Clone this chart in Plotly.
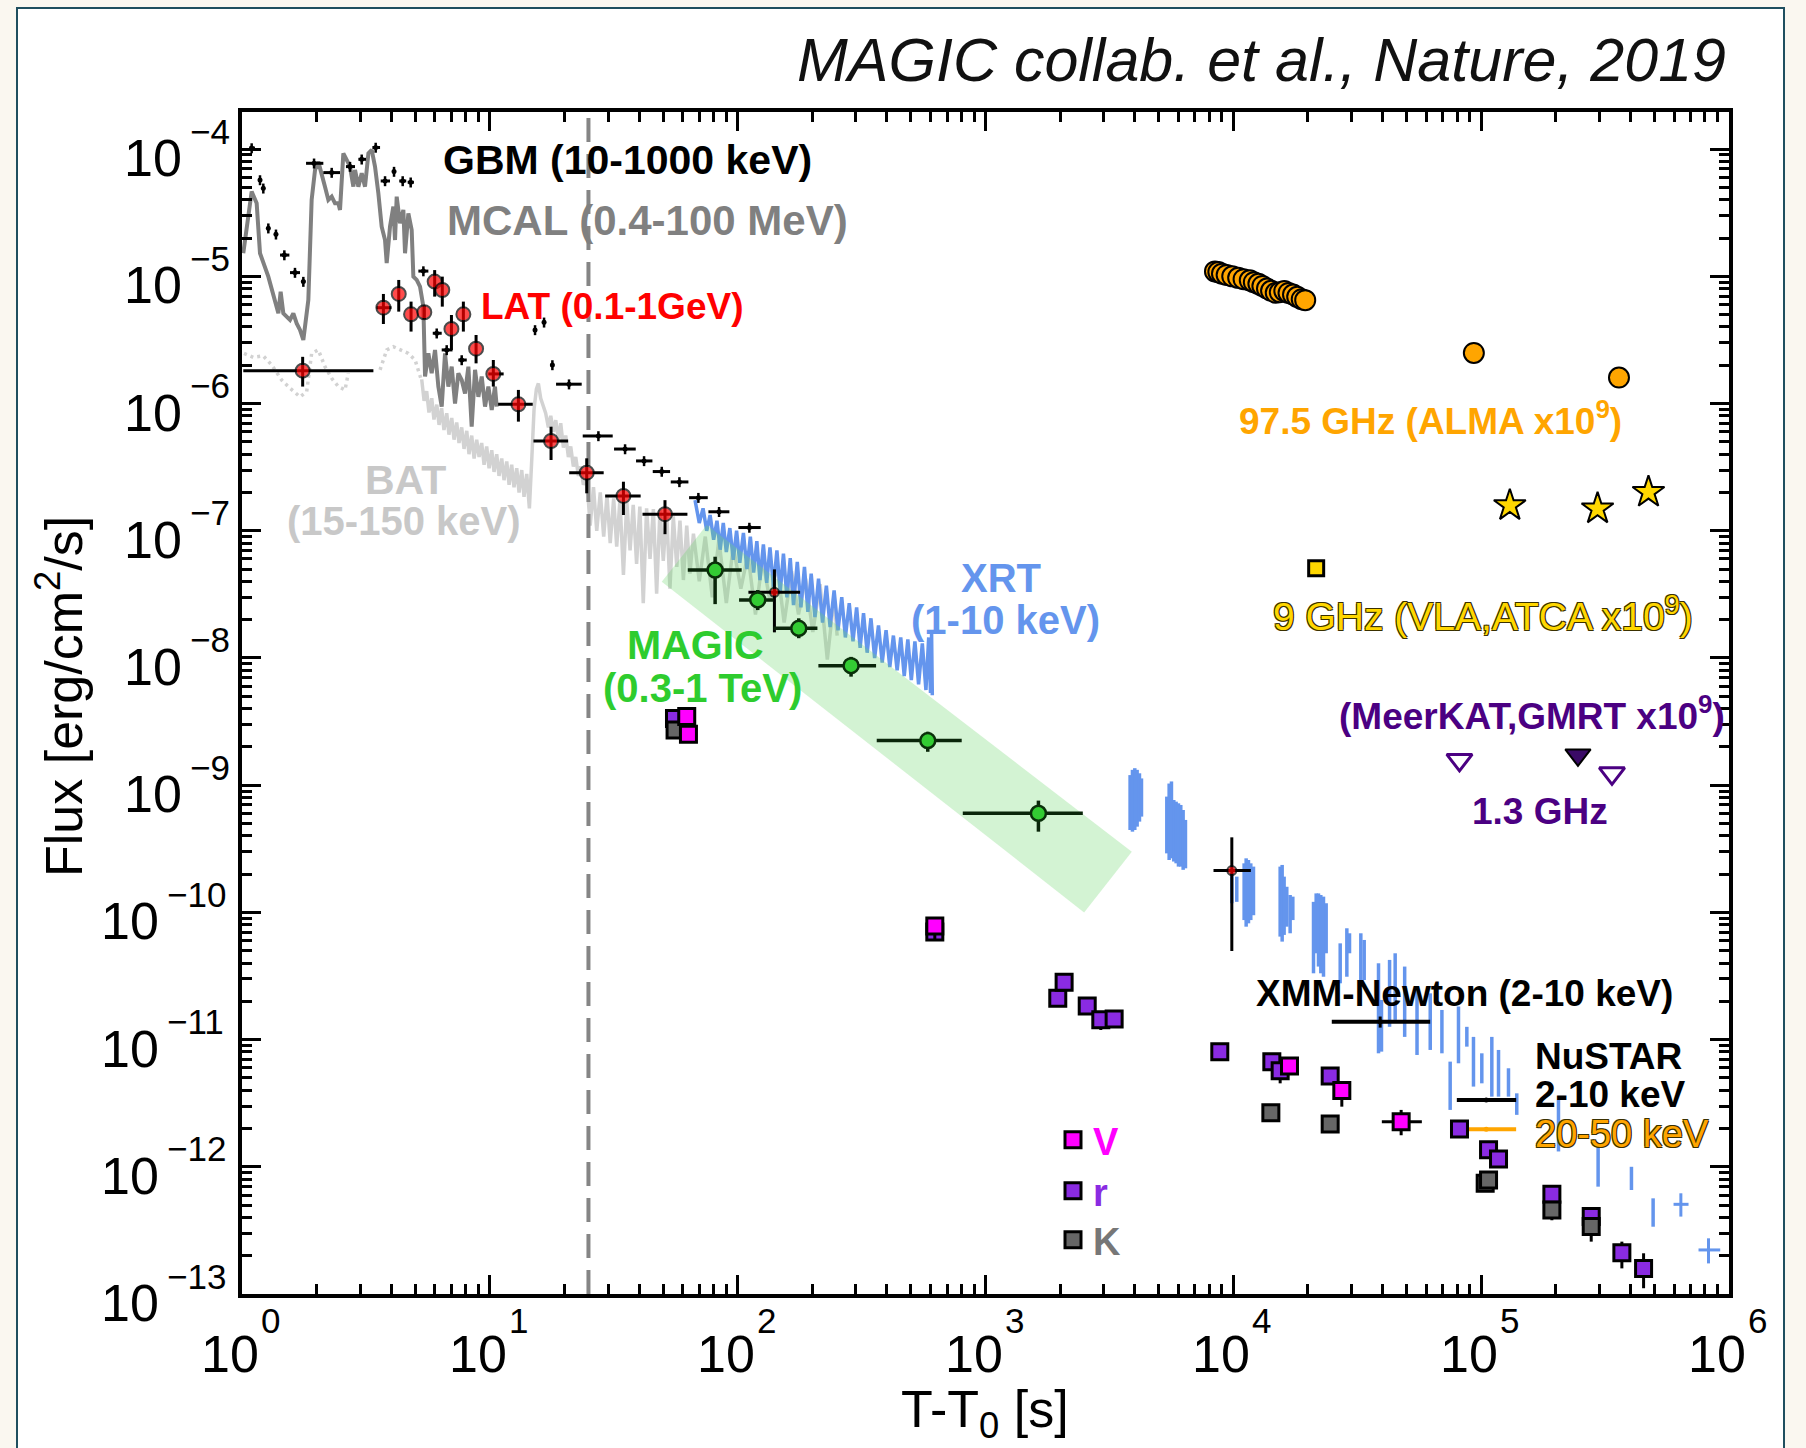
import math
import plotly.graph_objects as go

FONT = "Liberation Sans, Arial, Helvetica, sans-serif"

# ---------------- GBM 10-1000 keV (black points) ----------------
gbm_t = [1.094, 1.182, 1.219, 1.277, 1.371, 1.482, 1.636, 1.768, 1.953, 2.301,
         2.728, 3.041, 3.463, 3.777, 4.106, 4.450, 4.794, 5.393, 6.105, 6.698,
         7.70, 15.22, 16.55, 17.88, 20.87, 27.42, 35.13, 41.91, 49.40, 58.20,
         69.42, 84.13, 111.5]
gbm_f = [1.02e-4, 5.72e-5, 4.92e-5, 2.39e-5, 2.14e-5, 1.47e-5, 1.07e-5, 9.09e-6, 7.74e-5, 6.54e-5,
         7.29e-5, 8.32e-5, 1.03e-4, 5.62e-5, 6.66e-5, 5.62e-5, 5.49e-5, 1.10e-5, 3.57e-6, 2.64e-6,
         2.20e-6, 3.79e-6, 4.35e-6, 2.01e-6, 1.42e-6, 5.56e-7, 4.39e-7, 3.54e-7, 2.92e-7, 2.42e-7,
         1.82e-7, 1.41e-7, 1.06e-7]
gbm_tlo = [1.070, 1.182, 1.219, 1.277, 1.371, 1.424, 1.562, 1.740, 1.813, 2.129,
           2.627, 2.948, 3.358, 3.628, 4.106, 4.31, 4.66, 5.148, 5.884, 6.394,
           7.46, 15.0, 16.3, 17.6, 18.50, 23.70, 31.71, 38.90, 45.43, 53.70,
           63.67, 76.2, 100.7]
gbm_thi = [1.128, 1.182, 1.219, 1.277, 1.371, 1.553, 1.714, 1.80, 2.129, 2.486,
           2.858, 3.165, 3.606, 3.956, 4.106, 4.60, 4.94, 5.649, 6.394, 7.07,
           8.07, 15.45, 16.8, 18.1, 23.48, 31.32, 38.79, 45.29, 53.37, 63.28,
           75.73, 92.6, 123.9]

# ---------------- MCAL 0.4-100 MeV (dark grey curve) ----------------
mcal_t = [1.012, 1.094, 1.146, 1.182, 1.277, 1.359, 1.402, 1.432, 1.468, 1.562,
          1.611, 1.662, 1.714, 1.768, 1.824, 1.852, 1.910, 1.971, 2.032, 2.097,
          2.162, 2.231, 2.301, 2.373, 2.448, 2.486, 2.564, 2.645, 2.728, 2.814,
          2.858, 2.948, 3.041, 3.136, 3.236, 3.337, 3.441, 3.550, 3.661, 3.777,
          3.836, 3.956, 4.080, 4.144, 4.209, 4.341, 4.478, 4.548, 4.691, 4.838,
          4.914, 5.069, 5.228, 5.393, 5.477, 5.649, 5.826, 6.010, 6.198, 6.394,
          6.595, 6.803, 7.017, 7.237, 7.464, 7.700, 7.942, 8.192, 8.449, 8.716,
          8.990, 9.273, 9.565, 9.865, 10.18, 10.49, 10.66]
mcal_f = [1.52e-5, 4.64e-5, 3.75e-5, 1.52e-5, 9.95e-6, 6.52e-6, 5.12e-6, 7.58e-6, 5.12e-6, 4.54e-6,
          5.12e-6, 4.27e-6, 3.79e-6, 3.16e-6, 5.78e-6, 6.52e-6, 3.99e-5, 6.86e-5, 7.98e-5, 6.08e-5,
          5.07e-5, 3.99e-5, 4.23e-5, 3.75e-5, 3.75e-5, 3.33e-5, 9.27e-5, 8.22e-5, 7.29e-5, 5.07e-5,
          6.86e-5, 5.07e-5, 6.46e-5, 5.07e-5, 9.27e-5, 9.85e-5, 7.29e-5, 4.50e-5, 2.46e-5, 1.93e-5,
          1.27e-5, 2.46e-5, 3.53e-5, 1.93e-5, 4.23e-5, 2.61e-5, 3.33e-5, 1.52e-5, 3.13e-5, 2.32e-5,
          9.95e-6, 9.37e-6, 8.30e-6, 5.78e-6, 1.63e-6, 2.48e-6, 1.73e-6, 2.64e-6, 1.36e-6, 9.46e-7,
          2.48e-6, 1.36e-6, 1.95e-6, 1.00e-6, 1.73e-6, 1.53e-6, 1.20e-6, 1.95e-6, 6.58e-7, 1.84e-6,
          1.13e-6, 1.63e-6, 9.46e-7, 1.36e-6, 8.90e-7, 1.36e-6, 9.46e-7]

# ---------------- BAT 15-150 keV (light grey) ----------------
bat_dot_t = [1.019, 1.111, 1.219, 1.317, 1.446, 1.562, 1.714, 1.824, 1.910, 2.032,
             2.162, 2.301, 2.448, 2.604, 2.685, None, 3.606, 3.836, 4.080, 4.409,
             4.691, 4.994, 5.31]
bat_dot_f = [2.48e-6, 2.31e-6, 2.37e-6, 2.01e-6, 1.53e-6, 1.32e-6, 1.13e-6, 1.24e-6, 2.48e-6, 2.64e-6,
             1.95e-6, 1.58e-6, 1.36e-6, 1.28e-6, 1.73e-6, None, 1.84e-6, 2.64e-6, 2.80e-6, 2.64e-6,
             2.48e-6, 2.20e-6, 1.50e-6]
bat_t = [5.31, 5.43, 5.56, 5.68, 5.83, 5.95, 6.11, 6.24, 6.39, 6.53,
         6.70, 6.84, 7.02, 7.17, 7.35, 7.51, 7.70, 7.87, 8.07, 8.24,
         8.45, 8.64, 8.85, 9.05, 9.27, 9.48, 9.71, 9.93, 10.18, 10.40,
         10.66, 10.89, 11.17, 11.41, 11.70, 11.96, 12.25, 12.52, 12.84, 13.12,
         13.45, 13.74, 14.09, 14.44, 14.76, 15.08, 15.41, 15.70, 16.04, 16.44,
         16.80, 17.23, 17.61, 18.05, 18.45, 18.91, 19.32, 19.81, 20.24, 20.75,
         21.20, 21.73, 22.21, 22.77, 23.26, 23.85, 24.6, 25.4, 26.2, 27.0,
         27.9, 28.8, 29.7, 30.6, 31.6, 32.5, 33.5, 34.6, 35.7, 36.8,
         37.9, 39.1, 40.3, 41.6, 42.9, 44.3, 45.7, 47.1, 48.6, 50.1,
         51.7, 53.3, 55.0, 56.8, 58.5, 60.4, 62.3, 64.2, 66.3, 70,
         74, 79, 84, 90, 96, 103, 110, 118, 126, 135,
         144, 154, 165, 176, 188, 201, 215, 230, 245, 252]
bat_f = [1.55e-6, 1.05e-6, 1.25e-6, 8.5e-7, 1.10e-6, 7.5e-7, 9.8e-7, 6.8e-7, 9.2e-7, 6.2e-7,
         8.4e-7, 5.7e-7, 7.7e-7, 5.2e-7, 7.1e-7, 4.9e-7, 6.5e-7, 4.4e-7, 6.1e-7, 4.0e-7,
         5.6e-7, 3.7e-7, 5.2e-7, 3.8e-7, 4.9e-7, 3.3e-7, 4.6e-7, 3.1e-7, 4.3e-7, 2.9e-7,
         4.0e-7, 2.7e-7, 3.7e-7, 2.5e-7, 3.5e-7, 2.3e-7, 3.3e-7, 2.2e-7, 3.1e-7, 2.0e-7,
         3.0e-7, 1.85e-7, 2.8e-7, 1.5e-7, 3.6e-7, 9.0e-7, 1.30e-6, 1.44e-6, 1.10e-6, 9.5e-7,
         8.4e-7, 6.5e-7, 8.0e-7, 6.0e-7, 7.4e-7, 5.2e-7, 7.0e-7, 4.5e-7, 5.6e-7, 3.8e-7,
         4.6e-7, 3.2e-7, 3.8e-7, 2.7e-7, 3.2e-7, 2.3e-7, 2.6e-7, 1.1e-7, 2.2e-7, 1.0e-7,
         2.0e-7, 9.0e-8, 1.9e-7, 8.0e-8, 1.8e-7, 7.5e-8, 1.75e-7, 4.5e-8, 1.7e-7, 7.0e-8,
         1.6e-7, 5.5e-8, 1.55e-7, 2.7e-8, 1.5e-7, 6.0e-8, 1.48e-7, 3.2e-8, 1.46e-7, 5.8e-8,
         1.4e-7, 3.5e-8, 1.3e-7, 5.2e-8, 1.2e-7, 4.1e-8, 1.1e-7, 4.6e-8, 9.5e-8, 4.0e-8,
         9.0e-8, 3.0e-8, 8.5e-8, 2.7e-8, 7.5e-8, 3.5e-8, 6.5e-8, 2.2e-8, 6.0e-8, 2.8e-8,
         5.5e-8, 1.9e-8, 4.8e-8, 2.2e-8, 4.2e-8, 1.6e-8, 3.8e-8, 9.7e-9, 3.0e-8, 1.5e-8]

# ---------------- XRT 1-10 keV (blue) ----------------
xrt_t = [67.3, 70, 72.5, 75, 77.4, 80, 82.5, 85, 87.5, 90,
         93, 96, 99, 102, 105.5, 109, 112.5, 116, 119.5, 123,
         127, 131, 135, 139.5, 144, 148.5, 153, 158, 163, 168,
         174, 180, 186, 192, 198, 205, 212, 220, 228, 236,
         245, 254, 263, 272, 282, 292, 302, 312, 322, 333,
         345, 357, 370, 383, 397, 411, 425, 440, 455, 470,
         486, 502, 519, 537, 556, 575, 590, 600, 606, 610]
xrt_f = [1.74e-7, 1.15e-7, 1.5e-7, 1.0e-7, 1.33e-7, 8.5e-8, 1.2e-7, 7.1e-8, 1.15e-7, 6.8e-8,
         1.05e-7, 5.9e-8, 1.0e-7, 5.6e-8, 9.6e-8, 5.0e-8, 9.0e-8, 4.7e-8, 8.3e-8, 4.1e-8,
         7.8e-8, 3.9e-8, 7.4e-8, 3.6e-8, 7.0e-8, 3.3e-8, 6.6e-8, 3.0e-8, 6.1e-8, 2.6e-8,
         5.7e-8, 2.5e-8, 5.2e-8, 2.3e-8, 4.6e-8, 2.1e-8, 4.2e-8, 1.9e-8, 3.7e-8, 1.75e-8,
         3.4e-8, 1.65e-8, 3.0e-8, 1.45e-8, 2.7e-8, 1.35e-8, 2.5e-8, 1.2e-8, 2.25e-8, 1.1e-8,
         2.05e-8, 1.0e-8, 1.8e-8, 9.2e-9, 1.65e-8, 8.5e-9, 1.5e-8, 8.0e-9, 1.45e-8, 7.2e-9,
         1.4e-8, 6.7e-9, 1.35e-8, 6.2e-9, 1.3e-8, 5.6e-9, 1.45e-8, 5.3e-9, 1.55e-8, 5.1e-9]
# later XRT orbits: flux range covered at each time bin
xrt_late_t = [3832, 3917, 4003, 4091, 4181, 4260,
              5390, 5508, 5628, 5751, 5877, 6006, 6137, 6273, 6410,
              9859, 10325, 11055, 11265, 11510, 11760, 12060,
              15450, 15740, 16030, 16430, 16950, 17380,
              21060, 21590, 22060, 22540, 23110, 23690,
              26990, 28710, 29430, 32690, 33730,
              38530, 39610, 42700, 44980, 49130, 55100, 62300, 69440,
              74980, 81000, 87540, 93110, 100600, 110400, 117500, 128900, 139200,
              205100, 296400, 404000, 494100]
xrt_late_lo = [4.44e-10, 4.31e-10, 4.44e-10, 4.72e-10, 5.17e-10, 5.66e-10,
               2.91e-10, 2.58e-10, 2.66e-10, 2.51e-10, 2.43e-10, 2.29e-10, 2.29e-10, 2.16e-10, 2.22e-10,
               1.18e-10, 1.21e-10, 8.7e-11, 7.72e-11, 8.2e-11, 8.7e-11, 9.5e-11,
               6.45e-11, 5.89e-11, 6.65e-11, 7.72e-11, 6.85e-11, 8.7e-11,
               3.32e-11, 4.77e-11, 3.75e-11, 3.32e-11, 3.12e-11, 4.77e-11,
               2.77e-11, 3.12e-11, 4.77e-11, 2.61e-11, 2.94e-11,
               7.8e-12, 8.04e-12, 1.26e-11, 1.43e-11, 1.05e-11, 7.57e-12, 8.29e-12, 7.8e-12,
               2.80e-12, 6.51e-12, 8.8e-12, 4.27e-12, 4.53e-12, 3.56e-12, 3.56e-12, 3.56e-12, 2.56e-12,
               1.32e-12, 6.98e-13, 6.57e-13, 3.38e-13]
xrt_late_hi = [1.20e-9, 1.32e-9, 1.36e-9, 1.32e-9, 1.24e-9, 1.13e-9,
               8.13e-10, 1.03e-9, 1.07e-9, 7.65e-10, 7.42e-10, 7.20e-10, 6.99e-10, 6.38e-10, 5.33e-10,
               2.03e-10, 1.91e-10, 2.43e-10, 2.66e-10, 2.58e-10, 2.43e-10, 2.29e-10,
               2.29e-10, 2.36e-10, 1.91e-10, 1.59e-10, 1.37e-10, 1.33e-10,
               1.21e-10, 1.41e-10, 1.41e-10, 1.37e-10, 1.33e-10, 1.18e-10,
               5.71e-11, 7.5e-11, 6.85e-11, 6.85e-11, 6.07e-11,
               3.98e-11, 2.05e-11, 4.23e-11, 4.77e-11, 3.75e-11, 2.61e-11, 2.31e-11, 1.71e-11,
               6.71e-12, 1.82e-11, 1.26e-11, 1.05e-11, 7.8e-12, 1.05e-11, 8.29e-12, 5.95e-12, 3.78e-12,
               3.35e-12, 1.48e-12, 1.00e-12, 5.65e-13]
xrt_pt_t = [639400, 826600]
xrt_pt_f = [5.07e-13, 2.22e-13]
xrt_pt_tlo = [597400, 753400]
xrt_pt_thi = [686600, 921600]
xrt_pt_flo = [4.06e-13, 1.74e-13]
xrt_pt_fhi = [6.19e-13, 2.74e-13]

# ---------------- LAT 0.1-1 GeV (red) ----------------
lat_t = [1.757, 3.72, 4.29, 4.81, 5.44, 5.99, 6.43, 7.00, 7.82, 8.80,
         10.33, 13.04, 17.66, 24.6, 34.6, 50.9, 140.7, 9860]
lat_f = [1.815e-6, 5.67e-6, 7.27e-6, 5.03e-6, 5.22e-6, 9.09e-6, 7.81e-6, 3.86e-6, 5.03e-6, 2.70e-6,
         1.71e-6, 9.86e-7, 5.08e-7, 2.86e-7, 1.88e-7, 1.35e-7, 3.28e-8, 2.13e-10]
lat_tlo = [1.012, 3.49, 4.29, 4.81, 5.44, 5.99, 6.43, 7.00, 7.82, 8.80,
           9.86, 10.8, 15.0, 20.9, 29.2, 41.3, 110.5, 8318]
lat_thi = [3.39, 4.01, 4.29, 4.81, 5.44, 5.99, 6.43, 7.00, 7.82, 8.80,
           11.37, 14.9, 20.7, 28.8, 40.6, 62.7, 178.6, 11767]
lat_flo = [1.36e-6, 4.22e-6, 5.28e-6, 3.68e-6, 4.6e-6, 6.93e-6, 5.78e-6, 2.64e-6, 3.68e-6, 2.07e-6,
           1.36e-6, 7.21e-7, 3.60e-7, 1.97e-7, 1.33e-7, 9.4e-8, 1.59e-8, 4.97e-11]
lat_fhi = [2.33e-6, 7.27e-6, 9.37e-6, 6.33e-6, 5.9e-6, 1.12e-5, 9.95e-6, 4.97e-6, 6.33e-6, 3.46e-6,
           2.20e-6, 1.28e-6, 6.58e-7, 3.71e-7, 2.43e-7, 1.74e-7, 4.97e-8, 3.89e-10]
lat_size = [14] * 16 + [9, 9]

# ---------------- MAGIC 0.3-1 TeV (green) ----------------
magic_t = [81.1, 120.5, 176.4, 286.8, 584.8, 1635]
magic_f = [4.91e-8, 2.86e-8, 1.71e-8, 8.70e-9, 2.24e-9, 6.01e-10]
magic_tlo = [62.9, 101.3, 139.4, 211.7, 364, 809.7]
magic_thi = [103.8, 139.4, 209.8, 361.8, 801.7, 2470]
magic_flo = [2.65e-8, 2.38e-8, 1.43e-8, 7.13e-9, 1.83e-9, 4.31e-10]
magic_fhi = [6.25e-8, 3.42e-8, 2.05e-8, 1.02e-8, 2.63e-9, 7.56e-10]
# model band corners (time, flux)
band_t = [49.4, 75.0, 3894, 2500, 49.4]
band_f = [3.98e-8, 1.11e-7, 3.0e-10, 1.0e-10, 3.98e-8]

# ---------------- optical V, r, K ----------------
v_t = [62.3, 63.3, 624.4, 16850, 27400, 47550]
v_f = [3.46e-9, 2.51e-9, 7.82e-11, 6.2e-12, 3.97e-12, 2.26e-12]
v_tlo = [62.3, 63.3, 624.4, 16850, 27400, 39740]
v_thi = [62.3, 63.3, 624.4, 16850, 27400, 57630]
v_flo = [3.46e-9, 2.51e-9, 6.07e-11, 6.2e-12, 2.97e-12, 1.77e-12]
v_fhi = [3.46e-9, 2.51e-9, 7.82e-11, 6.2e-12, 4.5e-12, 2.80e-12]

r_t = [55.6, 624.4, 1957, 2076, 2573, 2919, 3304, 8818, 14300, 15450,
       24590, 81760, 107100, 117500, 192900, 278000, 369600, 452200]
r_f = [3.35e-9, 7.0e-11, 2.11e-11, 2.82e-11, 1.84e-11, 1.43e-11, 1.45e-11, 8.04e-12, 6.71e-12, 5.70e-12,
       5.17e-12, 1.98e-12, 1.36e-12, 1.15e-12, 6.08e-13, 4.06e-13, 2.11e-13, 1.59e-13]
r_flo = [3.35e-9, 7.0e-11, 2.11e-11, 2.82e-11, 1.84e-11, 1.19e-11, 1.45e-11, 8.04e-12, 6.71e-12, 4.53e-12,
         5.17e-12, 1.98e-12, 1.36e-12, 1.15e-12, 6.08e-13, 4.06e-13, 1.59e-13, 1.11e-13]
r_fhi = [3.35e-9, 7.0e-11, 2.11e-11, 2.82e-11, 1.84e-11, 1.43e-11, 1.45e-11, 8.04e-12, 6.71e-12, 5.70e-12,
         5.17e-12, 1.98e-12, 1.36e-12, 1.15e-12, 6.08e-13, 4.06e-13, 2.58e-13, 2.09e-13]

k_t = [55.9, 14170, 24590, 103800, 107100, 192900, 278000]
k_f = [2.72e-9, 2.66e-12, 2.17e-12, 7.42e-13, 7.88e-13, 4.58e-13, 3.39e-13]
k_flo = [2.72e-9, 2.66e-12, 2.17e-12, 7.42e-13, 7.88e-13, 3.8e-13, 2.58e-13]

# ---------------- X-ray points: XMM-Newton and NuSTAR ----------------
xmm_t, xmm_f, xmm_tlo, xmm_thi = [39130], [1.38e-11], [24960], [62270]
nu_t, nu_tlo, nu_thi = [104800], [79760], [138400]
nu_soft_f = [3.35e-12]
nu_hard_f = [1.97e-12]

# ---------------- radio (scaled by 1e9) ----------------
alma_t = [8433, 8700, 9000, 9397, 9900, 10460, 11000, 11650, 12100, 12620, 13100, 13670,
          14200, 14830, 15400, 16060, 16700, 17410, 18100, 18880, 19500, 93430, 359800]
alma_f = [1.094e-5, 1.08e-5, 1.05e-5, 1.026e-5, 1.0e-5, 9.73e-6, 9.5e-6, 9.30e-6, 9.0e-6, 8.73e-6,
          8.4e-6, 8.02e-6, 7.7e-6, 7.42e-6, 7.5e-6, 7.66e-6, 7.4e-6, 7.19e-6, 6.9e-6, 6.61e-6,
          6.5e-6, 2.50e-6, 1.60e-6]
vla_star_t = [130500, 294900, 473200]
vla_star_f = [1.58e-7, 1.49e-7, 2.01e-7]
vla_sq_t = [21590]
vla_sq_f = [5.07e-8]
mk_open_t = [81750, 337200]
mk_open_f = [1.58e-9, 1.24e-9]
mk_fill_t = [245800]
mk_fill_f = [1.73e-9]

# dashed vertical marker time and axis extent
t_mark = 25
y_lo_exp, y_hi_exp = -13, -3.708

# axis tick labels (written as 10 with a raised exponent)
x_tick_vals = [1, 10, 100, 1e3, 1e4, 1e5, 1e6]
x_tick_exps = ["0", "1", "2", "3", "4", "5", "6"]
y_tick_vals = [1e-13, 1e-12, 1e-11, 1e-10, 1e-9, 1e-8, 1e-7, 1e-6, 1e-5, 1e-4]
y_tick_exps = ["\u221213", "\u221212", "\u221211", "\u221210", "\u22129", "\u22128",
               "\u22127", "\u22126", "\u22125", "\u22124"]


def up(c, hi):
    return [h - v for v, h in zip(c, hi)]


def down(c, lo):
    return [v - l for v, l in zip(c, lo)]


def err(c, lo, hi, color, thick=3):
    return dict(type="data", symmetric=False, array=up(c, hi), arrayminus=down(c, lo),
                color=color, thickness=thick, width=0)


fig = go.Figure()

# BAT
fig.add_trace(go.Scatter(x=bat_dot_t, y=bat_dot_f, mode="lines",
                         line=dict(color="#d2d2d2", width=3.5, dash="3px,4px"), connectgaps=False))
fig.add_trace(go.Scatter(x=bat_t, y=bat_f, mode="lines", line=dict(color="#d2d2d2", width=3.5)))
# MCAL
fig.add_trace(go.Scatter(x=mcal_t, y=mcal_f, mode="lines", line=dict(color="#808080", width=4)))
# dashed marker line
fig.add_trace(go.Scatter(x=[t_mark, t_mark], y=[10 ** y_lo_exp, 10 ** y_hi_exp], mode="lines",
                         line=dict(color="#858585", width=4, dash="24px,12px")))
# XRT light curve
fig.add_trace(go.Scatter(x=xrt_t, y=xrt_f, mode="lines", line=dict(color="#6495ED", width=3.5)))
seg_x, seg_y = [], []
for t, lo, hi in zip(xrt_late_t, xrt_late_lo, xrt_late_hi):
    seg_x += [t, t, None]
    seg_y += [lo, hi, None]
fig.add_trace(go.Scatter(x=seg_x, y=seg_y, mode="lines", line=dict(color="#6495ED", width=3.5)))
fig.add_trace(go.Scatter(x=xrt_pt_t, y=xrt_pt_f, mode="markers", marker=dict(size=1, color="#6495ED"),
                         error_x=err(xrt_pt_t, xrt_pt_tlo, xrt_pt_thi, "#6495ED"),
                         error_y=err(xrt_pt_f, xrt_pt_flo, xrt_pt_fhi, "#6495ED")))
# MAGIC model band
fig.add_trace(go.Scatter(x=band_t, y=band_f, mode="lines", fill="toself",
                         fillcolor="rgba(110,215,110,0.30)", line=dict(width=0)))
# GBM
fig.add_trace(go.Scatter(x=gbm_t, y=gbm_f, mode="markers", marker=dict(size=5, color="black"),
                         error_x=err(gbm_t, gbm_tlo, gbm_thi, "black"),
                         error_y=dict(type="percent", value=9, color="black", thickness=2.5, width=0)))
# LAT
fig.add_trace(go.Scatter(x=lat_t, y=lat_f, mode="markers",
                         marker=dict(size=lat_size, color="#ff0000", line=dict(color="black", width=2)),
                         error_x=err(lat_t, lat_tlo, lat_thi, "black"),
                         error_y=err(lat_f, lat_flo, lat_fhi, "black")))
# MAGIC points
fig.add_trace(go.Scatter(x=magic_t, y=magic_f, mode="markers",
                         marker=dict(size=15, color="#33cc33", line=dict(color="#0a300a", width=2.5)),
                         error_x=err(magic_t, magic_tlo, magic_thi, "#0a250a", 3.5),
                         error_y=err(magic_f, magic_flo, magic_fhi, "#0a250a", 3.5)))
# XMM-Newton and NuSTAR
fig.add_trace(go.Scatter(x=xmm_t, y=xmm_f, mode="markers", marker=dict(size=5, color="black"),
                         error_x=err(xmm_t, xmm_tlo, xmm_thi, "black", 4),
                         error_y=dict(type="percent", value=10, color="black", thickness=3, width=0)))
fig.add_trace(go.Scatter(x=nu_t, y=nu_soft_f, mode="markers", marker=dict(size=5, color="black"),
                         error_x=err(nu_t, nu_tlo, nu_thi, "black", 4)))
fig.add_trace(go.Scatter(x=nu_t, y=nu_hard_f, mode="markers", marker=dict(size=5, color="#FFA500"),
                         error_x=err(nu_t, nu_tlo, nu_thi, "#FFA500", 4)))

# optical
sq = dict(symbol="square", size=16, line=dict(color="black", width=3))
fig.add_trace(go.Scatter(x=r_t, y=r_f, mode="markers", name="<b>r</b>", legend="legend2", showlegend=True,
                         marker=dict(color="#8a2be2", **sq),
                         error_y=err(r_f, r_flo, r_fhi, "black")))
fig.add_trace(go.Scatter(x=k_t, y=k_f, mode="markers", name="<b>K</b>", legend="legend3", showlegend=True,
                         marker=dict(color="#666666", **sq),
                         error_y=err(k_f, k_flo, k_f, "black")))
fig.add_trace(go.Scatter(x=v_t, y=v_f, mode="markers", name="<b>V</b>", legend="legend", showlegend=True,
                         marker=dict(color="#ff00ff", **sq),
                         error_x=err(v_t, v_tlo, v_thi, "black"),
                         error_y=err(v_f, v_flo, v_fhi, "black")))

# radio
fig.add_trace(go.Scatter(x=alma_t, y=alma_f, mode="markers",
                         marker=dict(symbol="circle", size=20, color="#FFA500", line=dict(color="black", width=2))))
fig.add_trace(go.Scatter(x=vla_star_t, y=vla_star_f, mode="markers",
                         marker=dict(symbol="star", size=24, color="#FFD700", line=dict(color="black", width=2))))
fig.add_trace(go.Scatter(x=vla_sq_t, y=vla_sq_f, mode="markers",
                         marker=dict(symbol="square", size=15, color="#FFD700", line=dict(color="black", width=3))))
fig.add_trace(go.Scatter(x=mk_open_t, y=mk_open_f, mode="markers",
                         marker=dict(symbol="triangle-down-open", size=22, color="#4B0082", line=dict(width=3))))
fig.add_trace(go.Scatter(x=mk_fill_t, y=mk_fill_f, mode="markers",
                         marker=dict(symbol="triangle-down", size=22, color="#3a0a66", line=dict(color="black", width=2))))

# ---------------- layout ----------------
L, R, T, B = 242, 1729, 112, 1294


def px(x, y):
    return (x - L) / (R - L), (B - y) / (B - T)


def label(text, x, y, color, size, bold=True, xanchor="center", italic=False, shadow=None, angle=0):
    xp, yp = px(x, y)
    f = dict(family=FONT, size=size, color=color, weight="bold" if bold else "normal",
             style="italic" if italic else "normal")
    if shadow:
        f["shadow"] = shadow
    fig.add_annotation(text=text, x=xp, y=yp, xref="paper", yref="paper", showarrow=False,
                       xanchor=xanchor, yanchor="middle", font=f, textangle=angle)


outline = "-1px -1px 0 #3a3000, 1px -1px 0 #3a3000, -1px 1px 0 #3a3000, 1px 1px 0 #3a3000"
label("MAGIC collab. et al., Nature, 2019", 1728, 60, "#111111", 61, bold=False, xanchor="right", italic=True)
label("GBM (10-1000 keV)", 627, 160, "black", 41)
label("MCAL (0.4-100 MeV)", 647, 220, "#808080", 42)
label("LAT (0.1-1GeV)", 612, 306, "#ff0000", 37)
label("BAT", 405, 480, "#c8c8c8", 41)
label("(15-150 keV)", 403, 521, "#c8c8c8", 40)
label("MAGIC", 695, 645, "#2ecc2e", 41)
label("(0.3-1 TeV)", 702, 688, "#2ecc2e", 40)
label("XRT", 1001, 578, "#6495ED", 40)
label("(1-10 keV)", 1005, 620, "#6495ED", 40)
label("97.5 GHz (ALMA x10<sup>9</sup>)", 1430, 418, "#FFA500", 37)
label("9 GHz (VLA,ATCA x10<sup>9</sup>)", 1483, 613, "#FFD700", 39, bold=False, shadow=outline)
label("(MeerKAT,GMRT x10<sup>9</sup>)", 1532, 713, "#4B0082", 37)
label("1.3 GHz", 1540, 812, "#4B0082", 37)
label("XMM-Newton (2-10 keV)", 1464, 993, "black", 37)
label("NuSTAR", 1533, 1056, "black", 37, xanchor="left")
label("2-10 keV", 1533, 1094, "black", 37, xanchor="left")
label("20-50 keV", 1533, 1134, "#FFA500", 38, bold=False, xanchor="left", shadow=outline)
label("Flux [erg/cm<sup>2</sup>/s]", 60, 697, "black", 52, bold=False, angle=-90)
label("T-T<sub>0</sub> [s]", 985, 1413, "black", 52, bold=False)

# tick labels: "10" plus a large raised exponent
base_font = dict(family=FONT, size=52, color="black")
exp_font = dict(family=FONT, size=35, color="black")
for v, e in zip(y_tick_vals, y_tick_exps):
    lv = math.log10(v)
    right_of_base = 161 if len(e) > 2 else 184
    fig.add_annotation(text="10", x=px(right_of_base, 0)[0], xref="paper", y=lv, yref="y",
                       xanchor="right", yanchor="middle", yshift=-9, showarrow=False, font=base_font)
    fig.add_annotation(text=e, x=px(right_of_base + 4, 0)[0], xref="paper", y=lv, yref="y",
                       xanchor="left", yanchor="middle", yshift=18, showarrow=False, font=exp_font)
for v, e in zip(x_tick_vals, x_tick_exps):
    lv = math.log10(v)
    fig.add_annotation(text="10", x=lv, xref="x", y=px(0, 1354)[1], yref="paper",
                       xanchor="center", yanchor="middle", xshift=-12, showarrow=False, font=base_font)
    fig.add_annotation(text=e, x=lv, xref="x", y=px(0, 1321)[1], yref="paper",
                       xanchor="left", yanchor="middle", xshift=17, showarrow=False, font=exp_font)

# white panel with thin frame
x0, y1 = px(17, 8)
x1, y0 = px(1784, 1520)
fig.add_shape(type="rect", xref="paper", yref="paper", x0=x0, x1=x1, y0=y0, y1=y1,
              line=dict(color="#1f4f5f", width=2), fillcolor="white", layer="below")

axis_common = dict(type="log", showgrid=False, zeroline=False, showline=True, linecolor="black",
                   linewidth=4, mirror="allticks", ticks="inside", ticklen=19, tickwidth=3,
                   tickcolor="black", tickmode="array", showticklabels=False,
                   minor=dict(ticks="inside", ticklen=10, tickwidth=2.5, tickcolor="black",
                              dtick="D1", showgrid=False))

fig.update_layout(
    width=1806, height=1448,
    margin=dict(l=L, r=1806 - R, t=T, b=1448 - B),
    paper_bgcolor="#faf7f0", plot_bgcolor="white",
    xaxis=dict(range=[0, 6], tickvals=x_tick_vals, **axis_common),
    yaxis=dict(range=[y_lo_exp, y_hi_exp], tickvals=y_tick_vals, **axis_common),
)
leg = dict(xanchor="left", yanchor="middle", bgcolor="rgba(0,0,0,0)", borderwidth=0,
           itemsizing="trace", itemclick=False)
lx = px(1053, 0)[0]
fig.update_layout(
    showlegend=True,
    legend=dict(x=lx, y=px(0, 1140)[1], font=dict(family=FONT, size=38, color="#ff00ff"), **leg),
    legend2=dict(x=lx, y=px(0, 1191)[1], font=dict(family=FONT, size=38, color="#8a2be2"), **leg),
    legend3=dict(x=lx, y=px(0, 1240)[1], font=dict(family=FONT, size=38, color="#777777"), **leg),
)
for tr in fig.data:
    if tr.name not in ("<b>V</b>", "<b>r</b>", "<b>K</b>"):
        tr.showlegend = False

fig.write_html("out.html")
